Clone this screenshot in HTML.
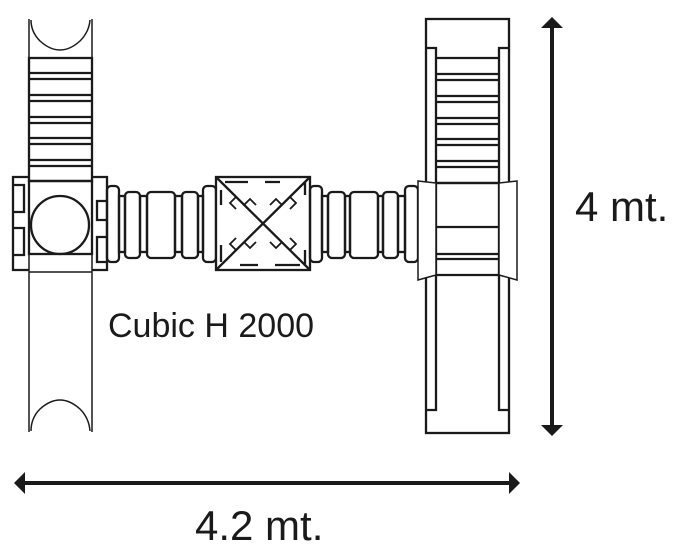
<!DOCTYPE html>
<html><head><meta charset="utf-8"><style>
html,body{margin:0;padding:0;background:#fff;width:684px;height:560px;overflow:hidden}
svg{display:block}
text{font-family:"Liberation Sans",Arial,sans-serif;fill:#1a1a1a}
</style></head><body>
<svg width="684" height="560" viewBox="0 0 684 560" xmlns="http://www.w3.org/2000/svg">
<g fill="none" stroke="#1a1a1a" stroke-width="2.3">
<!-- LEFT COLUMN -->
<path d="M29 19 V432 M92 19 V432" stroke-width="1.5"/>
<path d="M31 20 Q31 32 40 41 Q50 50 60 50 Q70 50 80 41 Q89 32 90 20" stroke-width="1.5"/>
<path d="M31 431 Q31 418 40 409 Q50 400 60 400 Q70 400 80 409 Q89 418 90 431" stroke-width="1.5"/>
<rect x="29" y="58" width="63" height="123" fill="#fff"/>
<path d="M29 73H92M29 79H92M29 95H92M29 101H92M29 117H92M29 123H92M29 138H92M29 144H92M29 160H92M29 166H92"/>
<rect x="29" y="181" width="63" height="73"/>
<circle cx="60" cy="225" r="29"/>
<path d="M29 254H92M29 272H92" stroke-width="1.5"/>
<path d="M29 177H13V270H29M13 185H24V212H13M13 228H24V255H13"/>
<path d="M92 177H107V270H92M107 201H97V220H107M107 237H97V262H107"/>
<!-- left connectors -->
<rect x="107" y="186" width="12" height="76" rx="4"/>
<rect x="119" y="196" width="6" height="56"/>
<rect x="125" y="192" width="15" height="66" rx="4"/>
<rect x="140" y="196" width="7" height="56"/>
<rect x="147" y="192" width="28" height="66" rx="4"/>
<rect x="175" y="196" width="7" height="56"/>
<rect x="182" y="192" width="16" height="66" rx="4"/>
<rect x="198" y="196" width="5" height="56"/>
<rect x="203" y="186" width="13" height="76" rx="4"/>
<!-- cube -->
<rect x="216" y="177" width="94" height="93" fill="#fff"/>
<path d="M216 177L310 270M310 177L216 270"/>
<path d="M236 197l-6 6 6 6 M244 205l6-6 6 6 M290 197l6 6-6 6 M282 205l-6-6-6 6 M236 250l-6-6 6-6 M244 242l6 6 6-6 M290 250l6-6-6-6 M282 242l-6 6-6-6" stroke-width="1.8"/>
<path d="M225 182H248M265 182H280M305 182V195M305 250V265M221 245V262M221 190V205M240 265H258M275 265H300"/>
<!-- right connectors -->
<rect x="310" y="186" width="12" height="76" rx="4"/>
<rect x="322" y="196" width="6" height="56"/>
<rect x="328" y="192" width="17" height="66" rx="4"/>
<rect x="345" y="196" width="5" height="56"/>
<rect x="350" y="192" width="28" height="66" rx="4"/>
<rect x="378" y="196" width="5" height="56"/>
<rect x="383" y="192" width="15" height="66" rx="4"/>
<rect x="398" y="196" width="7" height="56"/>
<rect x="405" y="186" width="13" height="76" rx="4"/>
<!-- RIGHT COLUMN -->
<rect x="426" y="19" width="83" height="414"/>
<path d="M426 48H436V410H426M509 48H499V410H509"/>
<path d="M436 58H499M436 74H499M436 80H499M436 96H499M436 102H499M436 118H499M436 124H499M436 139H499M436 145H499M436 161H499M436 167H499M436 183H499"/>
<path d="M418 181L436 183V275L418 280Z" fill="#fff" stroke-width="1.5"/>
<path d="M517 181L499 183V275L517 280Z" fill="#fff" stroke-width="1.5"/>
<path d="M436 183H499M436 227H499M436 254H499M436 259H499M436 275H499"/>
</g>
<g stroke="#1a1a1a" stroke-width="4" fill="#1a1a1a">
<line x1="552" y1="24" x2="552" y2="428"/>
<line x1="22" y1="483" x2="512" y2="483"/>
</g>
<g fill="#1a1a1a">
<path d="M552 17L563 28H541Z"/>
<path d="M552 436L563 425H541Z"/>
<path d="M14 483L25 472V494Z"/>
<path d="M520 483L509 472V494Z"/>
</g>
<text x="108" y="337" font-size="34">Cubic H 2000</text>
<text x="575" y="221" font-size="42">4 mt.</text>
<text x="195" y="540" font-size="42">4.2 mt.</text>
</svg>
</body></html>
